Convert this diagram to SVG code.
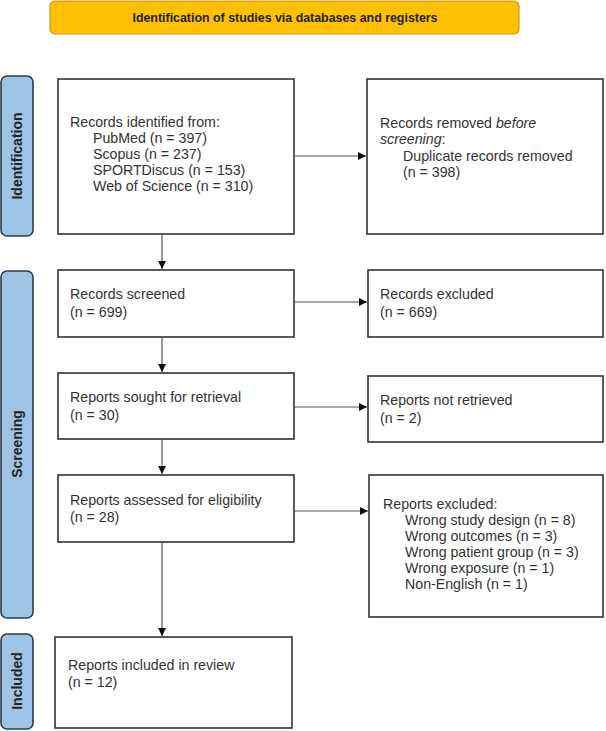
<svg xmlns="http://www.w3.org/2000/svg" width="606" height="731" viewBox="0 0 606 731">
<defs>
<marker id="ah" viewBox="0 0 10 10" refX="10" refY="5" markerWidth="8" markerHeight="8" markerUnits="userSpaceOnUse" orient="auto">
<path d="M0,0 L10,5 L0,10 z" fill="#111"/>
</marker>
</defs>
<style>
.box{fill:#fff;stroke:#333;stroke-width:1.6}
.side{fill:#9dc3e6;stroke:#2e3b4a;stroke-width:1.6}
.t{font-family:"Liberation Sans",Arial,sans-serif;font-size:14.2px;fill:#333}
.sl{font-family:"Liberation Sans",Arial,sans-serif;font-size:14px;font-weight:bold;fill:#222;text-anchor:middle}
.c{stroke:#555;stroke-width:1.2;fill:none;marker-end:url(#ah)}
</style>
<rect width="606" height="731" fill="#fff"/>
<g id="header">
<rect x="50" y="1" width="469" height="33" rx="5" fill="#ffc000" stroke="#c89a20" stroke-width="1.2"/>
<text x="285" y="22" text-anchor="middle" font-family="'Liberation Sans',Arial,sans-serif" font-size="12.4" font-weight="bold" fill="#222">Identification of studies via databases and registers</text>
</g>
<g id="side-identification">
<rect class="side" x="1" y="76" width="32" height="160" rx="6"/>
<text class="sl" transform="translate(22,156) rotate(-90)">Identification</text>
</g>
<g id="side-screening">
<rect class="side" x="1" y="271" width="32" height="347" rx="6"/>
<text class="sl" transform="translate(22,444) rotate(-90)">Screening</text>
</g>
<g id="side-included">
<rect class="side" x="1" y="634" width="32" height="95" rx="6"/>
<text class="sl" transform="translate(22,681) rotate(-90)">Included</text>
</g>
<g id="records-identified">
<rect class="box" x="58" y="79" width="236" height="155"/>
<text class="t" x="70" y="127">Records identified from:</text>
<text class="t" x="93" y="143">PubMed (n = 397)</text>
<text class="t" x="93" y="159">Scopus (n = 237)</text>
<text class="t" x="93" y="175">SPORTDiscus (n = 153)</text>
<text class="t" x="93" y="191">Web of Science (n = 310)</text>
</g>
<g id="records-removed">
<rect class="box" x="367" y="79" width="236" height="155"/>
<text class="t" x="380" y="128">Records removed <tspan font-style="italic">before</tspan></text>
<text class="t" x="380" y="144"><tspan font-style="italic">screening</tspan>:</text>
<text class="t" x="403" y="161">Duplicate records removed</text>
<text class="t" x="403" y="177">(n = 398)</text>
</g>
<g id="records-screened">
<rect class="box" x="58" y="270" width="236" height="67"/>
<text class="t" x="70" y="299">Records screened</text>
<text class="t" x="70" y="317">(n = 699)</text>
</g>
<g id="records-excluded">
<rect class="box" x="368" y="270" width="235" height="67"/>
<text class="t" x="380" y="299">Records excluded</text>
<text class="t" x="380" y="317">(n = 669)</text>
</g>
<g id="reports-sought">
<rect class="box" x="58" y="373" width="236" height="66"/>
<text class="t" x="70" y="402">Reports sought for retrieval</text>
<text class="t" x="70" y="420">(n = 30)</text>
</g>
<g id="reports-not-retrieved">
<rect class="box" x="368" y="376" width="235" height="66"/>
<text class="t" x="380" y="405">Reports not retrieved</text>
<text class="t" x="380" y="423">(n = 2)</text>
</g>
<g id="reports-assessed">
<rect class="box" x="58" y="475" width="236" height="67"/>
<text class="t" x="70" y="505">Reports assessed for eligibility</text>
<text class="t" x="70" y="522">(n = 28)</text>
</g>
<g id="reports-excluded">
<rect class="box" x="369" y="475" width="234" height="142"/>
<text class="t" x="383" y="509">Reports excluded:</text>
<text class="t" x="405" y="525">Wrong study design (n = 8)</text>
<text class="t" x="405" y="541">Wrong outcomes (n = 3)</text>
<text class="t" x="405" y="557">Wrong patient group (n = 3)</text>
<text class="t" x="405" y="573">Wrong exposure (n = 1)</text>
<text class="t" x="405" y="589">Non-English (n = 1)</text>
</g>
<g id="reports-included">
<rect class="box" x="55" y="637" width="237" height="91"/>
<text class="t" x="68" y="670">Reports included in review</text>
<text class="t" x="68" y="687">(n = 12)</text>
</g>
<g id="connectors">
<line class="c" x1="294" y1="156" x2="366" y2="156"/>
<line class="c" x1="162" y1="234" x2="162" y2="269"/>
<line class="c" x1="294" y1="302" x2="367" y2="302"/>
<line class="c" x1="162" y1="337" x2="162" y2="372"/>
<line class="c" x1="294" y1="407" x2="367" y2="407"/>
<line class="c" x1="162" y1="439" x2="162" y2="474"/>
<line class="c" x1="294" y1="511" x2="368" y2="511"/>
<line class="c" x1="162" y1="542" x2="162" y2="636"/>
</g>
</svg>
